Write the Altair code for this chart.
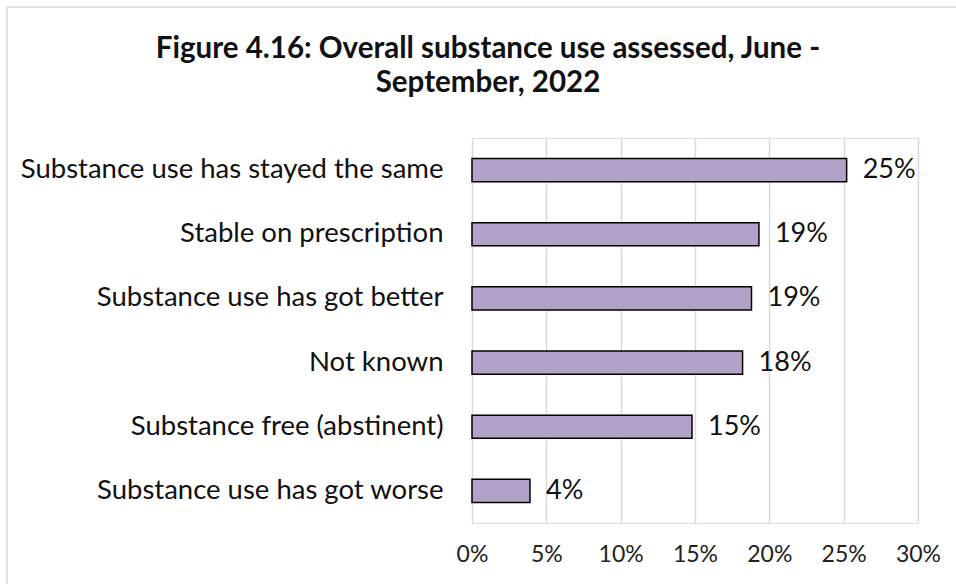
import altair as alt
import pandas as pd

categories = [
    "Substance use has stayed the same",
    "Stable on prescription",
    "Substance use has got better",
    "Not known",
    "Substance free (abstinent)",
    "Substance use has got worse",
]
values = [0.252, 0.193, 0.188, 0.182, 0.148, 0.039]
tick_values = [0, 0.05, 0.10, 0.15, 0.20, 0.25, 0.30]
title_lines = ["Figure 4.16: Overall substance use assessed, June -", "September, 2022"]

df = pd.DataFrame({"category": categories, "value": values})

FONT = "Lato"
W, H = 446, 385
LEFT, TOP = 472, 138

x = alt.X("value:Q", scale=alt.Scale(domain=[0, 0.30], nice=False),
          axis=alt.Axis(values=tick_values, format=".0%", title=None,
                        labelFont=FONT, labelFontSize=23, labelColor="#222222",
                        labelPadding=20, labelFlush=False, domain=False, ticks=False,
                        grid=True, gridColor="#D9D9D9", gridWidth=1.5))
y = alt.Y("category:N", sort=categories,
          scale=alt.Scale(paddingInner=0.64, paddingOuter=0.32),
          axis=alt.Axis(title=None, labelFont=FONT, labelFontSize=27.5,
                        labelColor="#111111", labelPadding=29,
                        domain=False, ticks=False, labelLimit=600))

bars = alt.Chart(df).mark_bar(color="#B3A2C7", stroke="#000000",
                              strokeWidth=1.5).encode(x=x, y=y)

labels = alt.Chart(df).mark_text(align="left", baseline="middle", dx=16,
                                 font=FONT, fontSize=27, color="#111111").encode(
    x="value:Q", y=alt.Y("category:N", sort=categories),
    text=alt.Text("value:Q", format=".0%"))

t1 = alt.Chart(pd.DataFrame({"t": [title_lines[0]]})).mark_text(
    align="center", baseline="alphabetic", font=FONT, fontSize=29.5,
    fontWeight="bold", color="#111111").encode(
    text="t:N", x=alt.value(488 - LEFT), y=alt.value(58 - TOP))
t2 = alt.Chart(pd.DataFrame({"t": [title_lines[1]]})).mark_text(
    align="center", baseline="alphabetic", font=FONT, fontSize=29.5,
    fontWeight="bold", color="#111111").encode(
    text="t:N", x=alt.value(488 - LEFT), y=alt.value(92 - TOP))

border = pd.DataFrame({"k": [0]})
border_top = alt.Chart(border).mark_rule(color="#D9D9D9", strokeWidth=1.5).encode(
    x=alt.value(7 - LEFT), x2=alt.value(956 - LEFT), y=alt.value(7 - TOP))
border_left = alt.Chart(border).mark_rule(color="#D9D9D9", strokeWidth=1.5).encode(
    x=alt.value(7 - LEFT), y=alt.value(7 - TOP), y2=alt.value(584 - TOP))

chart = alt.layer(bars, labels, t1, t2, border_top, border_left).properties(
    width=W, height=H,
    autosize=alt.AutoSizeParams(type="none"),
    padding={"left": LEFT, "top": TOP, "right": 956 - LEFT - W, "bottom": 584 - TOP - H},
).configure_view(stroke=None).configure(background="white")

chart.save("out.html", embed_options={"renderer": "svg", "actions": False})
